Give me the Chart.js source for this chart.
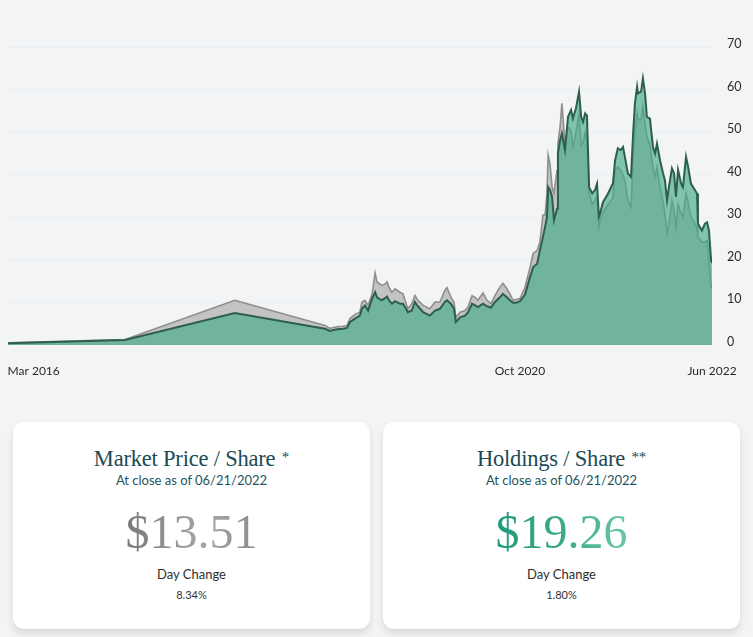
<!DOCTYPE html>
<html>
<head>
<meta charset="utf-8">
<script src="https://cdn.jsdelivr.net/npm/chart.js@4.4.1/dist/chart.umd.min.js"></script>
<style>
  html, body { margin: 0; padding: 0; }
  body { width: 753px; height: 637px; background: #f2f4f6; position: relative; overflow: hidden; font-family: "Lato", sans-serif; }
  #chartBox { position: absolute; left: 0; top: 0; width: 753px; height: 390px; }
  .card { position: absolute; top: 422px; width: 357px; height: 207px; background: #fff; border-radius: 11px;
          box-shadow: 0 5px 8px rgba(0,0,0,0.10), 0 1px 2px rgba(0,0,0,0.04); text-align: center; }
  .card .title { position: absolute; left: 0; right: 0; top: 22px; line-height: 26px; font-family: "Liberation Serif", serif; font-size: 22.5px; color: #1b4a55; letter-spacing: -0.2px; }
  .card .title sup { font-size: 15px; vertical-align: 4px; margin-left: 1px; }
  .card .sub { position: absolute; left: 0; right: 0; top: 50px; line-height: 16px; font-size: 13px; color: #1f5560; }
  .card .big { position: absolute; left: 0; right: 0; top: 82px; line-height: 56px; font-family: "Liberation Serif", serif; font-size: 48px; }
  .card .big span { -webkit-background-clip: text; background-clip: text; color: transparent; }
  .card .lbl { position: absolute; left: 0; right: 0; top: 144px; line-height: 16px; font-size: 13px; color: #2e2e2e; }
  .card .pct { position: absolute; left: 0; right: 0; top: 166px; line-height: 14px; font-size: 11px; color: #333; }
</style>
</head>
<body>
<div id="chartBox"><canvas id="navChart"></canvas></div>

<div class="card" style="left:13px">
  <div class="title">Market Price / Share <sup>*</sup></div>
  <div class="sub">At close as of 06/21/2022</div>
  <div class="big"><span style="background-image:linear-gradient(90deg,#7a7a7a,#a6a6a6 60%,#8c8c8c)">$13.51</span></div>
  <div class="lbl">Day Change</div>
  <div class="pct">8.34%</div>
</div>
<div class="card" style="left:383px">
  <div class="title">Holdings / Share <sup>**</sup></div>
  <div class="sub">At close as of 06/21/2022</div>
  <div class="big"><span style="background-image:linear-gradient(90deg,#219b7b,#3cab8c 55%,#6cc6aa)">$19.26</span></div>
  <div class="lbl">Day Change</div>
  <div class="pct">1.80%</div>
</div>

<script>
// --- données ---
const dates = [
  '2016-03-01','2017-03-19','2018-03-13','2019-01-02','2019-01-18','2019-02-10','2019-03-02','2019-03-15',
  '2019-03-25','2019-04-10','2019-04-26','2019-05-03','2019-05-13','2019-05-23','2019-06-05','2019-06-15',
  '2019-06-21','2019-07-07','2019-07-17','2019-07-24','2019-07-30','2019-08-09','2019-08-19','2019-09-04',
  '2019-09-14','2019-09-24','2019-09-30','2019-10-13','2019-10-23','2019-11-02','2019-11-19','2019-12-11',
  '2019-12-28','2020-01-13','2020-01-29','2020-02-05','2020-02-18','2020-02-28','2020-03-05','2020-03-19',
  '2020-04-04','2020-04-14','2020-04-27','2020-05-07','2020-05-16','2020-06-02','2020-06-15','2020-06-28',
  '2020-07-11','2020-07-27','2020-08-06','2020-08-19','2020-08-29','2020-09-08','2020-09-18','2020-10-01',
  '2020-10-17','2020-11-03','2020-11-13','2020-11-26','2020-12-05','2020-12-15','2020-12-22','2020-12-28',
  '2021-01-01','2021-01-07','2021-01-14','2021-01-20','2021-01-30','2021-02-02','2021-02-09','2021-02-15',
  '2021-02-25','2021-03-07','2021-03-17','2021-03-23','2021-04-02','2021-04-12','2021-04-19','2021-04-25',
  '2021-05-02','2021-05-08','2021-05-15','2021-05-25','2021-06-03','2021-06-10','2021-06-16','2021-06-20',
  '2021-06-29','2021-07-16','2021-08-01','2021-08-08','2021-08-17','2021-08-27','2021-09-03','2021-09-09',
  '2021-09-19','2021-09-29','2021-10-06','2021-10-12','2021-10-19','2021-10-22','2021-11-01','2021-11-07',
  '2021-11-14','2021-11-20','2021-11-30','2021-12-10','2021-12-17','2021-12-23','2022-01-02','2022-01-12',
  '2022-01-18','2022-01-25','2022-01-31','2022-02-10','2022-02-17','2022-02-23','2022-03-02','2022-03-12',
  '2022-03-18','2022-03-28','2022-04-04','2022-04-13','2022-04-20','2022-05-03','2022-05-06','2022-05-19',
  '2022-05-29','2022-06-05','2022-06-11','2022-06-18','2022-06-21'
];

const marketPrice = [
  0.5, 1.3, 10.5, 4.6, 3.9, 4.3, 4.4, 4.6,
  6.2, 7.2, 7.7, 10.1, 10.5, 9.3, 12.0, 16.9,
  14.8, 14.0, 14.3, 14.8, 13.6, 12.4, 13.2, 12.4,
  12.0, 9.8, 8.5, 9.7, 11.6, 10.5, 9.3, 8.5,
  10.1, 10.1, 12.8, 13.5, 11.2, 10.1, 6.5, 7.7,
  8.1, 8.9, 11.6, 11.2, 10.5, 12.2, 10.5, 9.7,
  11.6, 13.6, 14.5, 13.2, 12.0, 10.5, 10.7, 10.9,
  13.5, 18.3, 21.5, 22.2, 24.2, 30.5, 30.5, 35.6,
  44.6, 42.6, 37.1, 35.6, 41.0, 47.3, 51.2, 56.8,
  47.3, 51.2, 50.5, 46.5, 50.0, 54.4, 47.0, 47.5,
  50.0, 48.0, 35.6, 33.0, 34.0, 35.0, 27.7, 29.3,
  31.0, 33.0, 34.5, 41.1, 41.8, 41.0, 40.0, 38.7,
  34.0, 32.4, 43.4, 50.5, 54.4, 53.0, 53.0, 56.0,
  52.0, 48.9, 47.0, 41.8, 39.5, 41.8, 37.1, 33.5,
  30.9, 26.2, 28.5, 34.0, 31.6, 27.7, 33.0, 30.9,
  30.1, 35.6, 33.5, 30.1, 29.3, 27.7, 25.4, 24.2,
  24.2, 24.5, 19.9, 13.6, 13.51
];

const holdings = [
  0.42, 1.2, 7.5, 3.8, 3.3, 3.7, 3.8, 4.0,
  5.4, 6.2, 6.9, 8.5, 9.3, 8.1, 10.9, 12.4,
  11.2, 10.5, 11.0, 11.4, 10.5, 9.7, 10.3, 9.7,
  9.7, 8.5, 7.7, 8.1, 10.1, 9.1, 7.7, 6.9,
  8.1, 8.5, 10.1, 10.5, 9.7, 8.5, 5.4, 6.5,
  6.9, 7.7, 9.7, 9.3, 8.9, 9.7, 9.1, 8.8,
  10.1, 11.2, 12.0, 11.2, 10.5, 9.9, 9.9, 10.3,
  11.8, 16.0, 18.3, 19.1, 22.2, 25.4, 27.7, 30.1,
  37.1, 36.4, 34.8, 29.3, 32.0, 45.0, 48.1, 49.7,
  45.8, 53.6, 55.2, 53.2, 55.6, 59.5, 53.6, 52.4,
  54.4, 53.9, 37.1, 35.6, 36.4, 37.9, 30.1, 30.9,
  33.5, 35.6, 38.0, 43.4, 46.2, 45.8, 46.5, 44.2,
  40.3, 39.5, 49.7, 56.8, 60.7, 59.1, 59.5, 62.6,
  59.1, 53.6, 53.2, 46.5, 45.0, 47.3, 43.4, 40.3,
  38.7, 34.0, 37.1, 41.5, 40.3, 34.8, 41.1, 37.9,
  37.1, 44.2, 41.8, 37.9, 37.1, 35.6, 28.5, 26.9,
  28.5, 28.8, 26.9, 19.9, 19.26
];

const tickDates = ['2016-03-01', '2020-10-01', '2022-06-21'];
const tickLabels = ['Mar 2016', 'Oct 2020', 'Jun 2022'];
const yTicks = [0, 10, 20, 30, 40, 50, 60, 70];

// le premier libellé est poussé vers la droite pour rester dans le cadre
const firstLabelNudgeDays = 84;
const DAY = 86400000;

const toPoints = vals => dates.map((d, i) => ({ x: Date.parse(d), y: vals[i] }));

const ctx = document.getElementById('navChart').getContext('2d');
new Chart(ctx, {
  type: 'line',
  data: {
    datasets: [
      {
        label: 'Holdings / Share',
        data: toPoints(holdings),
        borderColor: '#2d5e4e',
        borderWidth: 2,
        backgroundColor: 'rgba(68,171,137,0.66)',
        fill: 'origin',
        pointRadius: 0,
        tension: 0,
        order: 1
      },
      {
        label: 'Market Price / Share',
        data: toPoints(marketPrice),
        borderColor: '#8e8e8e',
        borderWidth: 1.6,
        backgroundColor: '#c3c3c5',
        fill: 'origin',
        pointRadius: 0,
        tension: 0,
        order: 2
      }
    ]
  },
  options: {
    responsive: true,
    maintainAspectRatio: false,
    animation: false,
    layout: { padding: { left: 8, right: 0, top: 47, bottom: 5 } },
    plugins: {
      legend: { display: false },
      tooltip: { enabled: false }
    },
    scales: {
      x: {
        type: 'linear',
        min: Date.parse(tickDates[0]),
        max: Date.parse(tickDates[tickDates.length - 1]),
        afterBuildTicks: scale => {
          scale.ticks = tickDates.map((d, i) => ({ value: Date.parse(d) + (i === 0 ? firstLabelNudgeDays * DAY : 0) }));
        },
        afterFit: scale => {
          scale.height = 40;
          scale.paddingLeft = 0;
          scale.paddingRight = 0;
        },
        grid: { display: false },
        border: { display: false },
        ticks: {
          autoSkip: false,
          maxRotation: 0,
          padding: 11,
          color: '#2b2b2b',
          font: { family: 'Lato', size: 12 },
          callback: (v, i) => tickLabels[i]
        }
      },
      y: {
        position: 'right',
        min: yTicks[0],
        max: yTicks[yTicks.length - 1],
        z: 1,
        afterBuildTicks: scale => { scale.ticks = yTicks.map(v => ({ value: v })); },
        afterFit: scale => {
          scale.width = 41;
          scale.paddingTop = 0;
          scale.paddingBottom = 0;
        },
        grid: {
          drawTicks: false,
          lineWidth: 1,
          color: c => c.tick && c.tick.value === 0 ? 'rgba(0,0,0,0)' : 'rgba(234,237,240,0.7)'
        },
        border: { display: false },
        ticks: {
          padding: 15,
          labelOffset: -3,
          color: '#2b2b2b',
          font: { family: 'Lato', size: 12.5 }
        }
      }
    }
  }
});
</script>
</body>
</html>
